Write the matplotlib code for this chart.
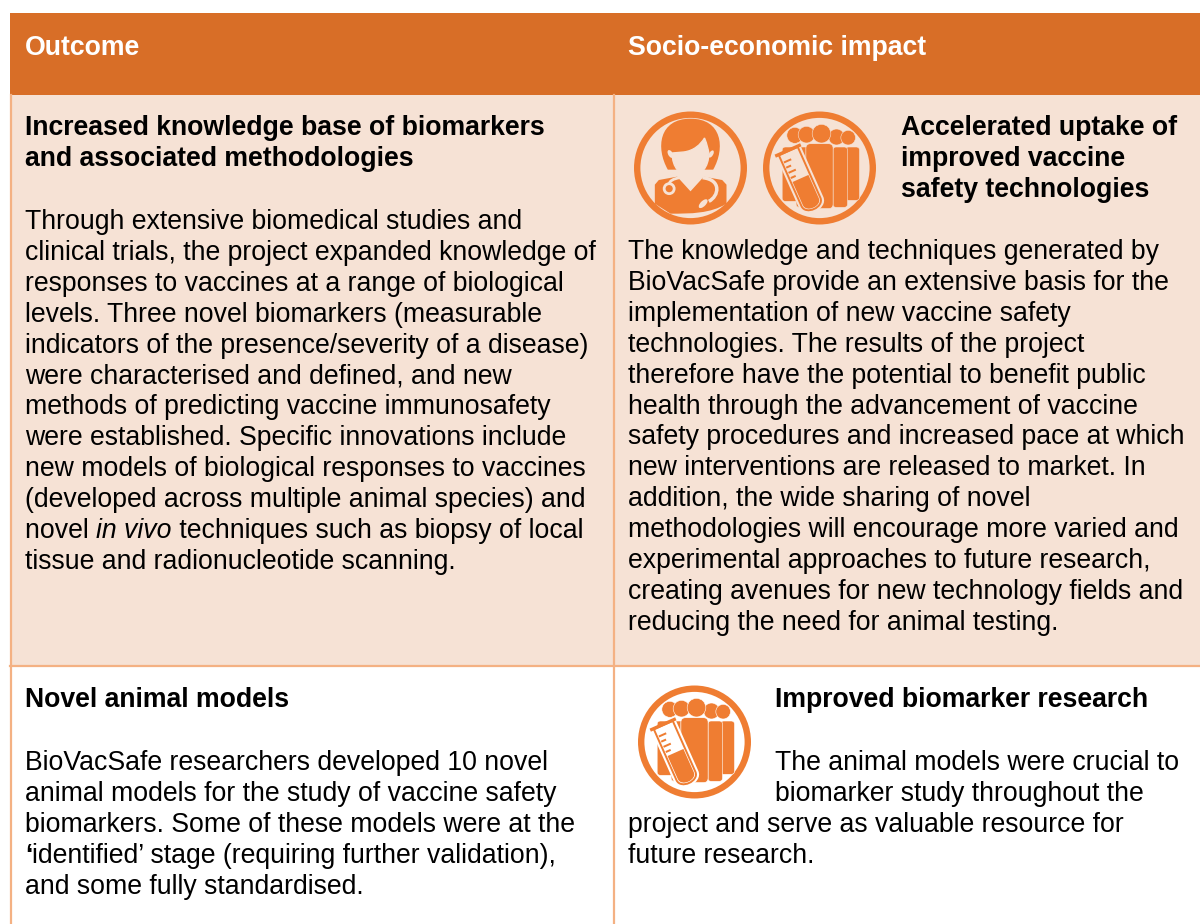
import matplotlib
matplotlib.use('Agg')
import matplotlib.pyplot as plt
from matplotlib.patches import Rectangle, Circle, Ellipse, FancyBboxPatch, PathPatch
from matplotlib.path import Path
from matplotlib.transforms import Affine2D

plt.rcParams['font.family'] = ['Liberation Sans', 'DejaVu Sans']

HEADER = '#D86E27'
PEACH = '#F6E2D5'
RULE = '#F4B183'
ICON = '#EF7D32'
FS = 19.15

header_labels = ['Outcome', 'Socio-economic impact']

title_1 = ['Increased knowledge base of biomarkers', 'and associated methodologies']
body_1 = [
    'Through extensive biomedical studies and',
    'clinical trials, the project expanded knowledge of',
    'responses to vaccines at a range of biological',
    'levels. Three novel biomarkers (measurable',
    'indicators of the presence/severity of a disease)',
    'were characterised and defined, and new',
    'methods of predicting vaccine immunosafety',
    'were established. Specific innovations include',
    'new models of biological responses to vaccines',
    '(developed across multiple animal species) and',
    [('novel ', 'normal', 'normal'), ('in vivo', 'italic', 'normal'), (' techniques such as biopsy of local', 'normal', 'normal')],
    'tissue and radionucleotide scanning.',
]
title_2 = ['Accelerated uptake of', 'improved vaccine', 'safety technologies']
body_2 = [
    'The knowledge and techniques generated by',
    'BioVacSafe provide an extensive basis for the',
    'implementation of new vaccine safety',
    'technologies. The results of the project',
    'therefore have the potential to benefit public',
    'health through the advancement of vaccine',
    'safety procedures and increased pace at which',
    'new interventions are released to market. In',
    'addition, the wide sharing of novel',
    'methodologies will encourage more varied and',
    'experimental approaches to future research,',
    'creating avenues for new technology fields and',
    'reducing the need for animal testing.',
]
title_3 = 'Novel animal models'
body_3 = [
    'BioVacSafe researchers developed 10 novel',
    'animal models for the study of vaccine safety',
    'biomarkers. Some of these models were at the',
    [('\u2018', 'normal', 'bold'), ('identified\u2019 stage (requiring further validation),', 'normal', 'normal')],
    'and some fully standardised.',
]
title_4 = 'Improved biomarker research'
body_4 = [
    (775, 'The animal models were crucial to'),
    (775, 'biomarker study throughout the'),
    (628, 'project and serve as valuable resource for'),
    (628, 'future research.'),
]

fig = plt.figure(figsize=(12, 9.24), dpi=100)
ax = fig.add_axes([0, 0, 1, 1])
ax.set_xlim(0, 1200)
ax.set_ylim(924, 0)
ax.axis('off')
renderer = fig.canvas.get_renderer()


def put(x, y, s, bold=False, color='black'):
    # y is the baseline, a line may be made of several styled runs
    runs = [(s, 'normal', 'bold' if bold else 'normal')] if isinstance(s, str) else s
    for txt, style, weight in runs:
        ax.text(x, y, txt, fontsize=FS, fontstyle=style, fontweight=weight,
                color=color, va='baseline', ha='left')
        # measure with a trailing mark so spaces count
        probe = ax.text(0, 0, txt + '|', fontsize=FS, fontstyle=style, fontweight=weight)
        bar = ax.text(0, 0, '|', fontsize=FS, fontstyle=style, fontweight=weight)
        x += probe.get_window_extent(renderer).width - bar.get_window_extent(renderer).width
        probe.remove()
        bar.remove()


def stack(x, y0, lines, step=30.9, bold=False):
    for i, line in enumerate(lines):
        put(x, y0 + i * step, line, bold=bold)


def capsule(hw, top, bottom):
    # flat top, round bottom
    mid = bottom - hw
    return Path([(-hw, top), (hw, top), (hw, mid), (hw, bottom), (-hw, bottom), (-hw, mid), (-hw, top)],
                [Path.MOVETO, Path.LINETO, Path.LINETO, Path.CURVE4, Path.CURVE4, Path.CURVE4, Path.LINETO])


def people(cx, cy, bg):
    # zoomed crop units, 3 per pixel, centred on the ring
    tr = Affine2D().scale(1 / 3).translate(cx, cy) + ax.transData
    for hx, hy, r in [(-74, -98, 24), (-39, -100, 25), (51, -93, 24), (86, -91, 22)]:
        ax.add_patch(Circle((hx, hy), r, fc=ICON, ec=bg, lw=0.4, transform=tr))
    for x0, x1, y1 in [(78, 120, 97), (40, 84, 118), (-112, -45, 100), (-70, -20, 118)]:
        ax.add_patch(FancyBboxPatch((x0, -63), x1 - x0, y1 + 63, boxstyle='round,pad=0,rounding_size=10',
                                    mutation_scale=1, fc=ICON, ec=bg, lw=0.4, transform=tr))
    ax.add_patch(FancyBboxPatch((-41, -73), 82, 195, boxstyle='round,pad=0,rounding_size=14',
                                mutation_scale=1, fc=ICON, ec=bg, lw=0.5, transform=tr))
    ax.add_patch(Circle((6, -103), 28, fc=ICON, ec=bg, lw=0.4, transform=tr))
    # test tube, drawn upright then turned
    tube = Affine2D().rotate_deg(-24).translate(-55, 36).scale(1 / 3).translate(cx, cy) + ax.transData
    ax.add_patch(PathPatch(capsule(37, -95, 110), fc=bg, ec=bg, lw=1.5, transform=tube))
    ax.add_patch(PathPatch(capsule(31, -95, 103), fc=bg, ec=ICON, lw=1.4, transform=tube))
    ax.add_patch(PathPatch(capsule(26, -5, 97), fc=ICON, ec='none', transform=tube))
    ax.add_patch(Rectangle((-42, -102), 84, 10, fc=ICON, ec='none', transform=tube))
    for gy, gw in [(-72, 24), (-55, 16), (-38, 24), (-21, 16)]:
        ax.add_patch(Rectangle((-26, gy), gw, 6, fc=ICON, ec='none', transform=tube))


def doctor(cx, cy, bg):
    tr = Affine2D().scale(1 / 3).translate(cx, cy) + ax.transData
    C = Path.CURVE4
    hair = Path([(-68, 5), (-105, -60), (-95, -148), (0, -148), (95, -148), (105, -60), (68, 5), (-68, 5)],
                [Path.MOVETO, C, C, C, C, C, C, Path.LINETO])
    ax.add_patch(PathPatch(hair, fc=ICON, ec='none', transform=tr))
    shoulders = Path([(-107, 107), (-107, 50), (-95, 36), (-40, 26), (0, 70), (40, 26), (95, 36), (108, 50), (108, 107),
                      (60, 137), (0, 137), (-60, 137), (-107, 107)],
                     [Path.MOVETO] + [Path.LINETO] * 8 + [C] * 3 + [Path.LINETO])
    ax.add_patch(PathPatch(shoulders, fc=ICON, ec='none', transform=tr))
    face = Path([(-55, -45), (-20, -48), (10, -52), (30, -70), (42, -90), (50, -70), (52, -60), (55, -45),
                 (55, 0), (30, 24), (0, 24), (-30, 24), (-55, 0), (-55, -45)],
                [Path.MOVETO, Path.LINETO, C, C, C, C, C, C, C, C, C, C, C, C])
    ax.add_patch(PathPatch(face, fc=bg, ec=bg, lw=1, transform=tr))
    # ears
    ax.add_patch(Ellipse((-60, -42), 14, 26, angle=-30, fc=bg, ec='none', transform=tr))
    ax.add_patch(Ellipse((62, -42), 12, 24, angle=30, fc=bg, ec='none', transform=tr))
    # stethoscope
    neck = Path([(-32, 29), (-50, 32), (-64, 38), (-64, 50)], [Path.MOVETO, C, C, C])
    ax.add_patch(PathPatch(neck, fc='none', ec=bg, lw=2, transform=tr))
    ax.add_patch(Circle((-64, 62), 15, fc=ICON, ec=bg, lw=2, transform=tr))
    tube = Path([(36, 29), (95, 35), (85, 85), (55, 100)], [Path.MOVETO, C, C, C])
    ax.add_patch(PathPatch(tube, fc='none', ec=bg, lw=2.5, transform=tr))
    ax.add_patch(Ellipse((38, 107), 34, 16, angle=-45, fc=bg, ec='none', transform=tr))


def ring(cx, cy, bg):
    ax.add_patch(Circle((cx, cy), 53.3, fc=bg, ec=ICON, lw=4.6))


# cell backgrounds and rules
ax.add_patch(Rectangle((10, 95), 1190, 570, fc=PEACH, ec='none'))
ax.add_patch(Rectangle((10, 13), 1190, 82, fc=HEADER, ec='none'))
ax.plot([10.5, 10.5], [95, 924], color=RULE, lw=1.6)
ax.plot([614, 614], [95, 924], color=RULE, lw=1.6)
ax.plot([10, 1200], [665.5, 665.5], color=RULE, lw=1.6)

put(25, 55, header_labels[0], bold=True, color='white')
put(628, 55, header_labels[1], bold=True, color='white')

stack(25, 135, title_1, bold=True)
stack(25, 229, body_1)
stack(901, 135, title_2, bold=True)
stack(628, 259, body_2)
put(25, 707, title_3, bold=True)
stack(25, 770, body_3)
put(775, 707, title_4, bold=True)
for i, (x, line) in enumerate(body_4):
    put(x, 770 + i * 30.9, line)

ring(690.5, 168, PEACH)
doctor(690.5, 168, PEACH)
ring(819.5, 168, PEACH)
people(819.5, 168, PEACH)
ring(694.5, 742, 'white')
people(694.5, 742, 'white')

fig.savefig('out.png', dpi=100)
